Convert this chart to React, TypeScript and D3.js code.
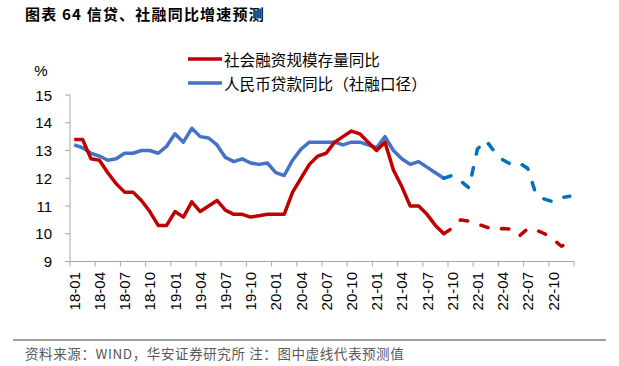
import React from "react";
import * as d3 from "d3";

const months: string[] = [
  "18-01","18-02","18-03","18-04","18-05","18-06","18-07","18-08","18-09","18-10","18-11","18-12",
  "19-01","19-02","19-03","19-04","19-05","19-06","19-07","19-08","19-09","19-10","19-11","19-12",
  "20-01","20-02","20-03","20-04","20-05","20-06","20-07","20-08","20-09","20-10","20-11","20-12",
  "21-01","21-02","21-03","21-04","21-05","21-06","21-07","21-08","21-09","21-10","21-11","21-12",
  "22-01","22-02","22-03","22-04","22-05","22-06","22-07","22-08","22-09","22-10","22-11","22-12",
];

// 社会融资规模存量同比 (actual 18-01..21-09)
const tsfActual: number[] = [
  13.4, 13.4, 12.7, 12.65, 12.2, 11.8, 11.5, 11.5, 11.2, 10.8, 10.3, 10.3,
  10.8, 10.6, 11.15, 10.8, 11.0, 11.2, 10.85, 10.7, 10.7, 10.6, 10.65, 10.7,
  10.7, 10.7, 11.5, 12.0, 12.5, 12.8, 12.9, 13.3, 13.5, 13.7, 13.6, 13.3,
  13.0, 13.3, 12.3, 11.7, 11.0, 11.0, 10.7, 10.3, 10.0,
];
// 社融 forecast (21-09..22-12)
const tsfForecast: number[] = [
  10.0, 10.2, 10.5, 10.45, 10.35, 10.25, 10.13, 10.19, 10.17, 9.92, 10.19, 10.13, 10.0, 9.8, 9.55, 9.67,
];
// 人民币贷款同比（社融口径） actual 18-01..21-09
const loanActual: number[] = [
  13.2, 13.1, 12.9, 12.8, 12.65, 12.7, 12.9, 12.9, 13.0, 13.0, 12.9, 13.15,
  13.6, 13.3, 13.8, 13.5, 13.45, 13.2, 12.75, 12.6, 12.7, 12.55, 12.5, 12.55,
  12.2, 12.1, 12.65, 13.05, 13.3, 13.3, 13.3, 13.3, 13.2, 13.3, 13.3, 13.2,
  13.1, 13.5, 13.0, 12.7, 12.5, 12.6, 12.4, 12.2, 12.0,
];
// 贷款 forecast (21-09..22-12)
const loanForecast: number[] = [
  12.0, 12.1, 11.9, 11.65, 13.05, 13.37, 12.97, 12.67, 12.5, 12.55, 12.35, 11.4, 11.25, 11.15, 11.3, 11.35,
];
const forecastStart = 44;

const yTicks: number[] = [9, 10, 11, 12, 13, 14, 15];
const legendLabels: string[] = ["社会融资规模存量同比", "人民币贷款同比（社融口径）"];

const RED = "#C00000";
const BLUE = "#4472C4";
const BLUE_DASH = "#0070C0";
const AXIS = "#A6A6A6";
const NUM_FONT = "'Liberation Sans', Arial, sans-serif";
const CJK_FONT = "'Noto Sans CJK SC', 'Noto Sans', sans-serif";

export default function App() {
  const W = 619, H = 366;
  const left = 70, right = 574, top = 95, bottom = 261.5;

  const x = d3.scaleBand<string>().domain(months).range([left, right]).paddingInner(0).paddingOuter(0);
  const y = d3.scaleLinear().domain([9, 15]).range([bottom, top]);
  const cx = (i: number) => (x(months[i]) as number) + x.bandwidth() / 2;

  const line = d3
    .line<[number, number]>()
    .x((d) => cx(d[0]))
    .y((d) => y(d[1]));

  const toPts = (arr: number[], offset: number) => arr.map((v, i) => [i + offset, v] as [number, number]);

  const tickIdx = d3.range(0, months.length + 1, 3);
  const labelIdx = d3.range(0, months.length, 3);

  return (
    <svg width={W} height={H} style={{ position: "absolute", left: 0, top: 0, background: "#fff" }}>
      {/* title */}
      <text x={25} y={13} dominantBaseline="central" fontFamily={CJK_FONT} fontWeight="bold" fontSize={15} letterSpacing={1.2} fill="#000">
        图表 64 信贷、社融同比增速预测
      </text>

      {/* y axis */}
      <line x1={left} x2={left} y1={top} y2={bottom} stroke={AXIS} strokeWidth={1} />
      {yTicks.map((t) => (
        <g key={t}>
          <line x1={left - 5} x2={left} y1={y(t)} y2={y(t)} stroke={AXIS} strokeWidth={1} />
          <text x={52} y={y(t)} textAnchor="end" dominantBaseline="central" fontFamily={NUM_FONT} fontSize={15} fill="#000">
            {t}
          </text>
        </g>
      ))}
      <text x={41} y={70} textAnchor="middle" dominantBaseline="central" fontFamily={NUM_FONT} fontSize={15} fill="#000">
        %
      </text>

      {/* x axis */}
      <line x1={left} x2={right} y1={bottom} y2={bottom} stroke={AXIS} strokeWidth={1} />
      {tickIdx.map((i) => {
        const xx = i < months.length ? (x(months[i]) as number) : right;
        return <line key={i} x1={xx} x2={xx} y1={bottom} y2={bottom + 5} stroke={AXIS} strokeWidth={1} />;
      })}
      {labelIdx.map((i) => (
        <text
          key={i}
          transform={`translate(${cx(i)},${272}) rotate(-90)`}
          textAnchor="end"
          dominantBaseline="central"
          fontFamily={NUM_FONT}
          fontSize={15}
          fill="#000"
        >
          {months[i]}
        </text>
      ))}

      {/* lines */}
      <path d={line(toPts(loanActual, 0)) || ""} fill="none" stroke={BLUE} strokeWidth={3.5} strokeLinejoin="round" />
      <path d={line(toPts(tsfActual, 0)) || ""} fill="none" stroke={RED} strokeWidth={3.5} strokeLinejoin="round" />
      <path
        d={line(toPts(loanForecast, forecastStart)) || ""}
        fill="none"
        stroke={BLUE_DASH}
        strokeWidth={3.5}
        strokeLinejoin="round"
        strokeLinecap="round"
        strokeDasharray="7.5 14"
      />
      <path
        d={line(toPts(tsfForecast, forecastStart)) || ""}
        fill="none"
        stroke={RED}
        strokeWidth={3.5}
        strokeLinejoin="round"
        strokeLinecap="round"
        strokeDasharray="7.5 14"
      />

      {/* legend */}
      <line x1={188} x2={222} y1={59} y2={59} stroke={RED} strokeWidth={3.5} />
      <text x={224} y={59} dominantBaseline="central" fontFamily={CJK_FONT} fontSize={15.6} fill="#000">
        {legendLabels[0]}
      </text>
      <line x1={188} x2={222} y1={83} y2={83} stroke={BLUE} strokeWidth={3.5} />
      <text x={224} y={83} dominantBaseline="central" fontFamily={CJK_FONT} fontSize={15.6} fill="#000">
        {legendLabels[1]}
      </text>

      {/* footer */}
      <line x1={13} x2={606} y1={340} y2={340} stroke="#404040" strokeWidth={1} />
      <text x={25} y={353} dominantBaseline="central" fontFamily={CJK_FONT} fontSize={13.5} letterSpacing={0.6} fill="#595959">
        资料来源：WIND，华安证券研究所 注：图中虚线代表预测值
      </text>
    </svg>
  );
}
